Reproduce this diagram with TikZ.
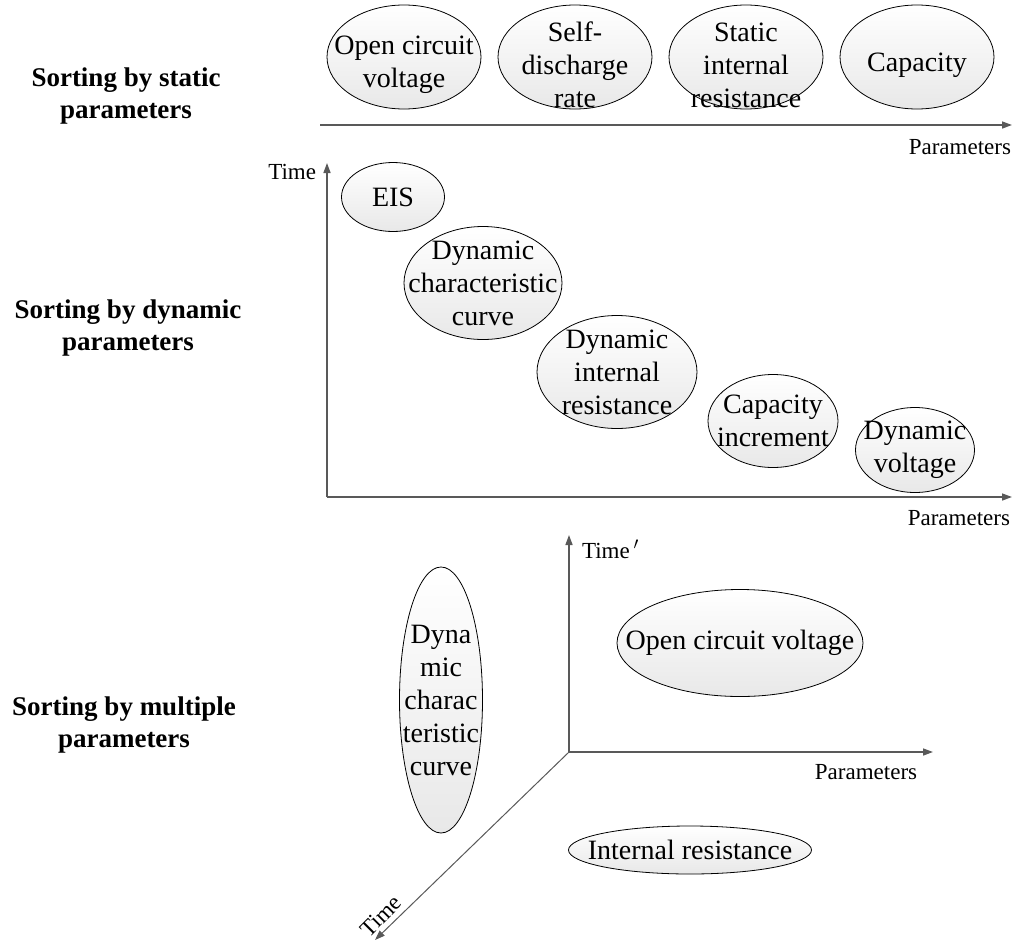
\documentclass[tikz,border=0pt]{standalone}
\usepackage{fontspec}
\setmainfont{Liberation Serif}
\usepackage{xcolor}
\usetikzlibrary{shapes.geometric, arrows.meta, positioning}
\definecolor{axisgray}{HTML}{595959}

\begin{document}
\begin{tikzpicture}[
			x=1pt, y=-1pt,
			every node/.style={inner sep=0pt, outer sep=0pt},
			param/.style 2 args={ellipse, draw, line width=0.8pt, top color=white, bottom color=black!9, minimum width=#1, minimum height=#2},
			ptext/.style={align=center, font=\fontsize{28}{33}\selectfont},
			sidelabel/.style={align=center, font=\fontsize{27}{32}\selectfont\bfseries},
			axislabel/.style={font=\fontsize{23}{27}\selectfont},
			axis/.style={draw=axisgray, line width=1.5pt, -{Triangle[length=10pt, width=7pt]}}
			]
			
			\fill[white] (0,0) rectangle (1013,943);
			\useasboundingbox (0,0) rectangle (1013,943);
			
			% Side labels
			\node (lbl_static) [sidelabel] at (126,96) {Sorting by static\\parameters};
			\node (lbl_dynamic) [sidelabel] at (128,328) {Sorting by dynamic\\parameters};
			\node (lbl_multiple) [sidelabel] at (124,725) {Sorting by multiple\\parameters};
			
			% Static parameters
			\node (st_ocv) [param={154}{104}, label={[ptext, yshift=-8pt]center:{Open circuit\\voltage}}] at (404,57) {};
			\node (st_self) [param={154}{104}, right=17pt of st_ocv, label={[ptext, yshift=-8pt]center:{Self-\\discharge\\rate}}] {};
			\node (st_res) [param={154}{104}, right=17pt of st_self, label={[ptext, yshift=-8pt]center:{Static\\internal\\resistance}}] {};
			\node (st_cap) [param={154}{104}, right=17pt of st_res, label={[ptext, yshift=-8pt]center:{Capacity}}] {};
			
			\coordinate (st_start) at (320,125);
			\coordinate (st_end) at (1012,125);
			\node (st_xlabel) [axislabel, anchor=east] at (1011,147) {Parameters};
			
			% Dynamic parameters
			\node (dy_eis) [param={103}{69}, label={[ptext]center:EIS}] at (393,197) {};
			\node (dy_curve) [param={158}{113}, label={[ptext]center:{Dynamic\\characteristic\\curve}}] at (483,283) {};
			\node (dy_res) [param={160}{113}, label={[ptext]center:{Dynamic\\internal\\resistance}}] at (617,372) {};
			\node (dy_inc) [param={130}{93}, label={[ptext]center:{Capacity\\increment}}] at (773,421) {};
			\node (dy_volt) [param={119}{85}, label={[ptext]center:{Dynamic\\voltage}}] at (915,450) {};
			
			\coordinate (dy_origin) at (327,497);
			\coordinate (dy_top) at (327,163);
			\coordinate (dy_right) at (1012,497);
			\node (dy_ylabel) [axislabel, anchor=east] at (316,172) {Time};
			\node (dy_xlabel) [axislabel, anchor=east] at (1010,518) {Parameters};
			
			% Multiple parameters
			\node (mu_curve) [param={83}{266}, label={[ptext]center:{Dyna\\mic\\charac\\teristic\\curve}}] at (441,700) {};
			\node (mu_ocv) [param={246}{107}, label={[ptext]center:{Open circuit voltage}}] at (740,643) {};
			\node (mu_res) [param={243}{48}, label={[ptext]center:{Internal resistance}}] at (690,850) {};
			
			\coordinate (mu_origin) at (569,752);
			\coordinate (mu_top) at (569,535);
			\coordinate (mu_right) at (933,752);
			\coordinate (mu_front) at (375,940);
			\node (mu_ylabel) [axislabel, anchor=west] at (582,549) {Time\,$'$};
			\node (mu_xlabel) [axislabel] at (866,772) {Parameters};
			\node (mu_zlabel) [axislabel, rotate=45] at (381,916) {Time};
			
			% Axes
			\draw [axis] (st_start) -- (st_end);
			\draw [axis] (dy_origin) -- (dy_top);
			\draw [axis] (dy_origin) -- (dy_right);
			\draw [axis] (mu_origin) -- (mu_top);
			\draw [axis] (mu_origin) -- (mu_right);
			\draw [axis, line width=1pt] (mu_origin) -- (mu_front);
			
		\end{tikzpicture}
\end{document}
